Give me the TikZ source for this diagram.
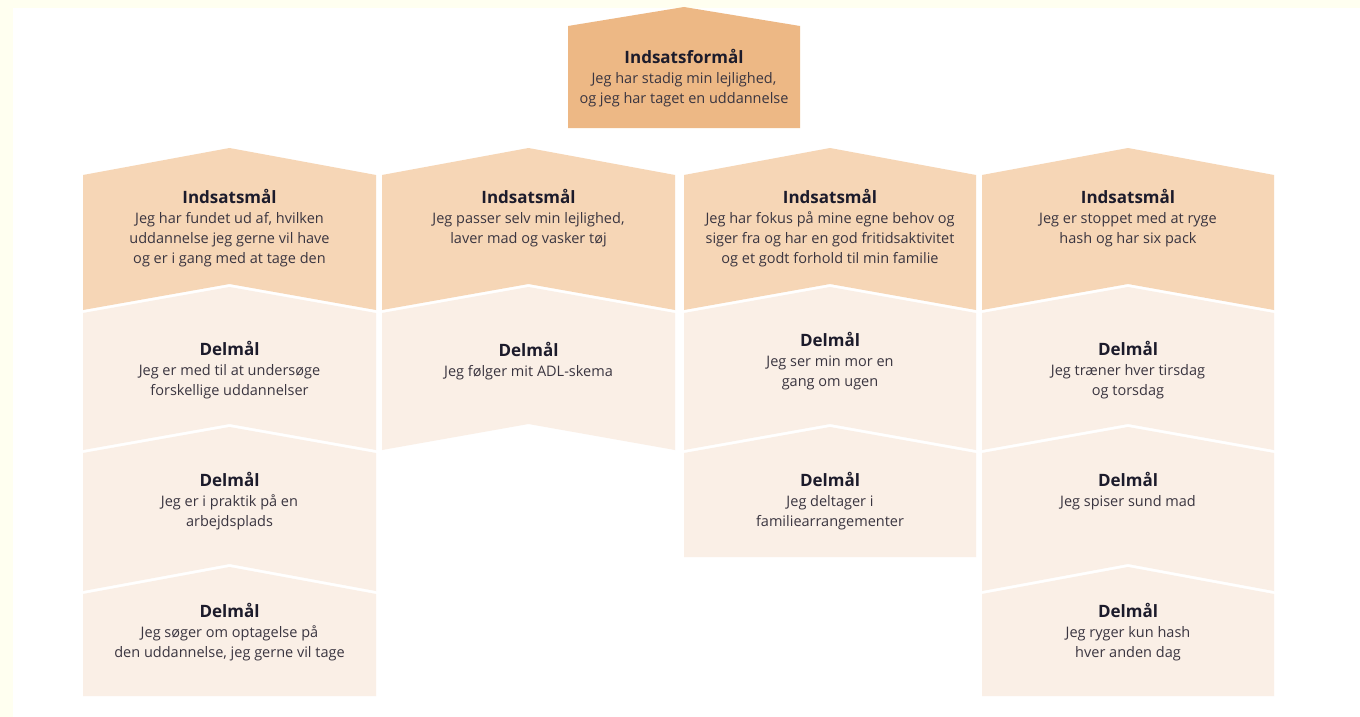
\documentclass[tikz,border=0pt]{standalone}
\usepackage{fontspec}
\setmainfont{Open Sans}
\definecolor{bgcream}{HTML}{FFFFF0}
\definecolor{topfill}{HTML}{EDB885}
\definecolor{midfill}{HTML}{F6D6B6}
\definecolor{lowfill}{HTML}{FAEFE6}
\definecolor{titletext}{HTML}{1C1B2B}
\definecolor{bodytext}{HTML}{3A3540}
\newcommand\chevcell[7]{\fill[#7] (#1,#3) -- ({(#1+#2)/2},#4) -- (#2,#3) -- (#2,#5) -- ({(#1+#2)/2},#6) -- (#1,#5) -- cycle;}
\newcommand\ttl[1]{{\fontsize{17}{20}\selectfont\bfseries\color{titletext}#1}}
\tikzset{txt/.style={anchor=north, align=center, inner sep=0pt, font=\fontsize{14.5}{20}\selectfont, text=bodytext}}
\begin{document}
\begin{tikzpicture}[x=1pt,y=-1pt]
\useasboundingbox (0,0) rectangle (1360,717);
\fill[white] (0,0) rectangle (1360,717);
\fill[bgcream] (0,0) rectangle (1360,8);
\fill[bgcream] (0,0) rectangle (13,717);
% top box
\chevcell{568}{800}{26}{7}{128}{128}{topfill}
% column shapes
\foreach \L/\R in {83/376, 382/675, 684/976, 982/1274}{
  \chevcell{\L}{\R}{175}{148}{310}{284}{midfill}
}
% column 1
\chevcell{83}{376}{313}{287}{450}{424}{lowfill}
\chevcell{83}{376}{453}{427}{591}{564}{lowfill}
\chevcell{83}{376}{594}{567}{696}{696}{lowfill}
% column 2
\chevcell{382}{675}{313}{287}{450}{424}{lowfill}
% column 3
\chevcell{684}{976}{313}{287}{450}{424}{lowfill}
\chevcell{684}{976}{453}{427}{557}{557}{lowfill}
% column 4
\chevcell{982}{1274}{313}{287}{450}{424}{lowfill}
\chevcell{982}{1274}{453}{427}{591}{564}{lowfill}
\chevcell{982}{1274}{594}{567}{696}{696}{lowfill}
% texts
\node[txt] (t0) at (684,49) {\ttl{Indsatsformål}\\Jeg har stadig min lejlighed,\\og jeg har taget en uddannelse};
\node[txt] (i1) at (229.5,189) {\ttl{Indsatsmål}\\Jeg har fundet ud af, hvilken\\uddannelse jeg gerne vil have\\og er i gang med at tage den};
\node[txt] (i2) at (528.5,189) {\ttl{Indsatsmål}\\Jeg passer selv min lejlighed,\\laver mad og vasker tøj};
\node[txt] (i3) at (830,189) {\ttl{Indsatsmål}\\Jeg har fokus på mine egne behov og\\siger fra og har en god fritidsaktivitet\\og et godt forhold til min familie};
\node[txt] (i4) at (1128,189) {\ttl{Indsatsmål}\\Jeg er stoppet med at ryge\\hash og har six pack};
\node[txt] (d11) at (229.5,341) {\ttl{Delmål}\\Jeg er med til at undersøge\\forskellige uddannelser};
\node[txt] (d12) at (229.5,472) {\ttl{Delmål}\\Jeg er i praktik på en\\arbejdsplads};
\node[txt] (d13) at (229.5,603) {\ttl{Delmål}\\Jeg søger om optagelse på\\den uddannelse, jeg gerne vil tage};
\node[txt] (d21) at (528.5,342) {\ttl{Delmål}\\Jeg følger mit ADL-skema};
\node[txt] (d31) at (830,332) {\ttl{Delmål}\\Jeg ser min mor en\\gang om ugen};
\node[txt] (d32) at (830,472) {\ttl{Delmål}\\Jeg deltager i\\familiearrangementer};
\node[txt] (d41) at (1128,341) {\ttl{Delmål}\\Jeg træner hver tirsdag\\og torsdag};
\node[txt] (d42) at (1128,472) {\ttl{Delmål}\\Jeg spiser sund mad};
\node[txt] (d43) at (1128,603) {\ttl{Delmål}\\Jeg ryger kun hash\\hver anden dag};
\end{tikzpicture}
\end{document}
